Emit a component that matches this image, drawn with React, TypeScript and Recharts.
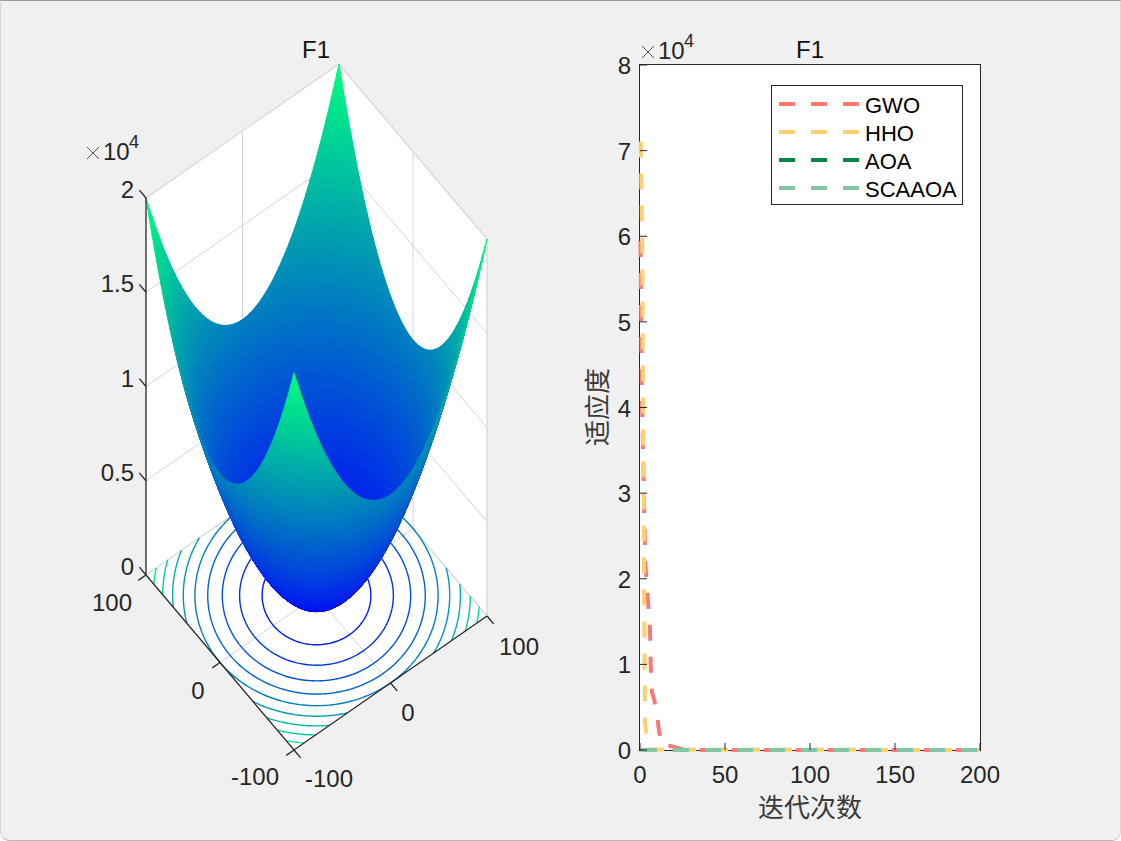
import { Legend, Line, LineChart, Scatter, ScatterChart, XAxis, YAxis } from 'recharts'

// F1 sphere surface: squared coordinate for x = 100, 98, ... 0 (mirrored for the negative side)
const squares = [
  10000, 9604, 9216, 8836, 8464, 8100, 7744, 7396, 7056, 6724, 6400, 6084, 5776, 5476, 5184, 4900, 4624,
  4356, 4096, 3844, 3600, 3364, 3136, 2916, 2704, 2500, 2304, 2116, 1936, 1764, 1600, 1444, 1296, 1156,
  1024, 900, 784, 676, 576, 484, 400, 324, 256, 196, 144, 100, 64, 36, 16, 4, 0,
]
const contourLevels = [2000, 4000, 6000, 8000, 10000, 12000, 14000, 16000, 18000]
const zTicks = [0, 5000, 10000, 15000, 20000]
const zTickLabels = ['0', '0.5', '1', '1.5', '2']
const floorTicks = [-100, 0, 100]

const gwoIter = [0.29, 1.18, 3.12, 3.53, 5.88, 6.29, 7.06, 8.41, 10.41, 11.35, 13.53, 15.88, 25.3, 35, 200]
const gwoFitness = [59450, 40880, 21600, 20790, 14010, 9930, 6775, 5840, 3500, 1985, 467, 584, 58, 0, 0]
const hhoIter = [0.41, 1.35, 1.76, 2.35, 2.94, 5, 200]
const hhoFitness = [71060, 58980, 40880, 21600, 3150, 47, 0]
const aoaIter = [0.6, 200]
const aoaFitness = [0, 0]
const scaaoaIter = [0.6, 200]
const scaaoaFitness = [0, 0]

const xTicks = [0, 50, 100, 150, 200]
const yTicks = [0, 10000, 20000, 30000, 40000, 50000, 60000, 70000, 80000]

const INK = '#262626'
const GRID = '#d6d6d6'
const FONT = '"Liberation Sans", Arial, sans-serif'
const CJK = '"Noto Sans CJK SC", sans-serif'

// fixed camera of the left axes, from the box corners
function project(x: number, y: number, z: number) {
  const u = (x + 100) / 200
  const v = (y + 100) / 200
  return { px: 294 + 193 * u - 148 * v, py: 750 - 134 * u - 175 * v - (z * 377) / 20000 }
}

// MATLAB winter colormap over the z range
function winter(z: number) {
  const t = z / 20000
  return `rgb(0,${Math.round(255 * t)},${Math.round(255 - 127.5 * t)})`
}

const column = [...squares, ...squares.slice(0, -1).reverse()]
const coord = column.map((_, i) => -100 + 2 * i)

function polygonDatum(pts: { px: number; py: number }[], fill: string, seam: boolean) {
  const px = pts.reduce((s, p) => s + p.px, 0) / pts.length
  const py = pts.reduce((s, p) => s + p.py, 0) / pts.length
  return { px, py, fill, seam, corners: pts.map(p => [p.px - px, p.py - py]) }
}

// painter's order, far corner first
const facets: ReturnType<typeof polygonDatum>[] = []
for (let i = coord.length - 2; i >= 0; i--) {
  for (let j = coord.length - 2; j >= 0; j--) {
    const zs = [column[i] + column[j], column[i + 1] + column[j], column[i + 1] + column[j + 1], column[i] + column[j + 1]]
    const pts = [
      project(coord[i], coord[j], zs[0]),
      project(coord[i + 1], coord[j], zs[1]),
      project(coord[i + 1], coord[j + 1], zs[2]),
      project(coord[i], coord[j + 1], zs[3]),
    ]
    facets.push(polygonDatum(pts, winter((zs[0] + zs[1] + zs[2] + zs[3]) / 4), true))
  }
}

const wall = [
  polygonDatum(
    [
      project(-100, 100, 0),
      project(-100, 100, 20000),
      project(100, 100, 20000),
      project(100, -100, 20000),
      project(100, -100, 0),
      project(-100, -100, 0),
    ],
    '#ffffff',
    false,
  ),
]

// walk the mesh edges for each level, then order the crossings around the bowl
function contourArcs(level: number) {
  const hits: { x: number; y: number; a: number }[] = []
  const add = (x: number, y: number) => hits.push({ x, y, a: Math.atan2(y, x) })
  for (let i = 0; i < coord.length; i++) {
    for (let j = 0; j < coord.length; j++) {
      const z = column[i] + column[j]
      if (i + 1 < coord.length) {
        const z2 = column[i + 1] + column[j]
        if ((z - level) * (z2 - level) < 0) add(coord[i] + (2 * (level - z)) / (z2 - z), coord[j])
      }
      if (j + 1 < coord.length) {
        const z2 = column[i] + column[j + 1]
        if ((z - level) * (z2 - level) < 0) add(coord[i], coord[j] + (2 * (level - z)) / (z2 - z))
      }
    }
  }
  hits.sort((a, b) => a.a - b.a)
  const arcs: (typeof hits)[] = [[]]
  hits.forEach((h, k) => {
    if (k > 0 && h.a - hits[k - 1].a > 0.12) arcs.push([])
    arcs[arcs.length - 1].push(h)
  })
  if (hits[0].a + 2 * Math.PI - hits[hits.length - 1].a <= 0.12) {
    if (arcs.length > 1) {
      const first = arcs.shift()!
      arcs[arcs.length - 1].push(...first)
    } else {
      arcs[0].push(hits[0])
    }
  }
  return arcs.map(arc => arc.map(h => project(h.x, h.y, 0)))
}

const NoMark = () => null

function Polygon({ cx, cy, payload }: any) {
  const points = payload.corners.map((c: number[]) => `${(cx + c[0]).toFixed(2)},${(cy + c[1]).toFixed(2)}`).join(' ')
  return <polygon points={points} fill={payload.fill} stroke={payload.seam ? payload.fill : 'none'} strokeWidth={1} />
}

function Path3d({ pts, color, width = 1 }: { pts: number[][]; color: string; width?: number }) {
  return (
    <Scatter
      data={pts.map(p => project(p[0], p[1], p[2]))}
      line={{ stroke: color, strokeWidth: width }}
      shape={NoMark}
      isAnimationActive={false}
    />
  )
}

function SciLabel({ x, y }: { x: number; y: number }) {
  return (
    <g fontFamily={FONT} fill={INK}>
      <path d={`M${x} ${y - 12}l12 12m0 -12l-12 12`} stroke={INK} strokeWidth={0.8} fill="none" />
      <text x={x + 16} y={y + 1} fontSize={24}>10</text>
      <text x={x + 42} y={y - 11} fontSize={18}>4</text>
    </g>
  )
}

function SurfacePanel() {
  return (
    <ScatterChart width={1121} height={841} margin={{ top: 0, right: 0, bottom: 0, left: 0 }} style={{ position: 'absolute', left: 0, top: 0 }}>
      <XAxis dataKey="px" type="number" domain={[0, 1121]} hide allowDataOverflow />
      <YAxis dataKey="py" type="number" domain={[0, 841]} reversed hide allowDataOverflow />
      <Scatter data={wall} shape={Polygon} isAnimationActive={false} />

      {/* back walls and floor grid */}
      <Path3d pts={[[-100, 100, 20000], [100, 100, 20000], [100, -100, 20000], [100, -100, 0]]} color={GRID} width={1.2} />
      <Path3d pts={[[-100, 100, 0], [100, 100, 0], [100, -100, 0]]} color={GRID} width={1.2} />
      <Path3d pts={[[100, 100, 0], [100, 100, 20000]]} color={GRID} />
      <Path3d pts={[[0, 100, 0], [0, 100, 20000]]} color={GRID} />
      <Path3d pts={[[100, 0, 0], [100, 0, 20000]]} color={GRID} />
      <Path3d pts={[[0, -100, 0], [0, 100, 0]]} color={GRID} />
      <Path3d pts={[[-100, 0, 0], [100, 0, 0]]} color={GRID} />
      {zTicks.slice(1, -1).map(z => (
        <Path3d key={z} pts={[[-100, 100, z], [100, 100, z], [100, -100, z]]} color={GRID} />
      ))}

      {contourLevels.flatMap(level =>
        contourArcs(level).map((arc, k) => (
          <Scatter
            key={`${level}-${k}`}
            data={arc}
            line={{ stroke: winter(level), strokeWidth: 1.4 }}
            shape={NoMark}
            isAnimationActive={false}
          />
        )),
      )}

      <Scatter data={facets} shape={Polygon} isAnimationActive={false} />

      {/* dark axes and tick stubs */}
      <Path3d pts={[[-100, 100, 20000], [-100, 100, 0], [-100, -100, 0], [100, -100, 0]]} color={INK} width={1.3} />
      {zTicks.map(z => (
        <Path3d key={z} pts={[[-100, 100, z], [-100, 109, z]]} color={INK} width={1.3} />
      ))}
      {floorTicks.map(t => (
        <Path3d key={`a${t}`} pts={[[t, -100, 0], [t, -109, 0]]} color={INK} width={1.3} />
      ))}
      {floorTicks.map(t => (
        <Path3d key={`b${t}`} pts={[[-100, t, 0], [-108, t, 0]]} color={INK} width={1.3} />
      ))}

      <g fontFamily={FONT} fontSize={24} fill={INK}>
        <text x={316} y={58} textAnchor="middle" fill="#111">F1</text>
        {zTickLabels.map((label, i) => (
          <text key={label} x={134} y={project(-100, 100, zTicks[i]).py} textAnchor="end">{label}</text>
        ))}
        <text x={519} y={655} textAnchor="middle">100</text>
        <text x={408} y={721} textAnchor="middle">0</text>
        <text x={329} y={787} textAnchor="middle">-100</text>
        <text x={112} y={611} textAnchor="middle">100</text>
        <text x={198} y={699} textAnchor="middle">0</text>
        <text x={255} y={785} textAnchor="middle">-100</text>
      </g>
      <SciLabel x={87} y={159} />
    </ScatterChart>
  )
}

function StubTick({ x, y, payload, side, labelled }: any) {
  const dx = side === 'left' ? 7 : side === 'right' ? -7 : 0
  const dy = side === 'bottom' ? -7 : side === 'top' ? 7 : 0
  return (
    <g>
      <line x1={x} y1={y} x2={x + dx} y2={y + dy} stroke={INK} />
      {labelled && side === 'bottom' && (
        <text x={x} y={y + 33} textAnchor="middle" fontSize={24} fontFamily={FONT} fill={INK}>{payload.value}</text>
      )}
      {labelled && side === 'left' && (
        <text x={x - 9} y={y + 9} textAnchor="end" fontSize={24} fontFamily={FONT} fill={INK}>{payload.value / 10000}</text>
      )}
    </g>
  )
}

function CurveLegend({ payload }: any) {
  return (
    <div style={{ width: 190, height: 118, background: '#fff', border: `1px solid ${INK}`, position: 'relative' }}>
      {(payload ?? []).map((item: any, i: number) => (
        <div key={item.value} style={{ position: 'absolute', left: 0, top: 4 + i * 28, height: 28, width: 190 }}>
          <svg width={90} height={28} style={{ position: 'absolute', left: 7, top: 0 }}>
            <line x1={0} x2={81} y1={14} y2={14} stroke={item.color} strokeWidth={4} strokeDasharray="16 16" />
          </svg>
          <span style={{ position: 'absolute', left: 93, top: 3, fontFamily: FONT, fontSize: 22, lineHeight: '26px', color: '#000' }}>
            {item.value}
          </span>
        </div>
      ))}
    </div>
  )
}

const zip = (iter: number[], fitness: number[]) => iter.map((v, i) => ({ iter: v, value: fitness[i] }))

function ConvergencePanel() {
  const lineProps = { dataKey: 'value', dot: false, strokeWidth: 4, strokeDasharray: '16 16', isAnimationActive: false, type: 'linear' as const, zIndex: 700 }
  return (
    <LineChart width={1121} height={841} margin={{ top: 64, right: 140, bottom: 51, left: 580 }} style={{ position: 'absolute', left: 0, top: 0 }}>
      <rect x={639.5} y={64.5} width={341} height={686} fill="#fff" stroke={INK} />
      <XAxis dataKey="iter" type="number" domain={[0, 200]} ticks={xTicks} interval={0} height={40} tickSize={0} tickMargin={0} axisLine={false} tick={<StubTick side="bottom" labelled />} />
      <XAxis xAxisId="top" orientation="top" type="number" domain={[0, 200]} ticks={xTicks} interval={0} height={1} tickSize={0} tickMargin={0} axisLine={false} tick={<StubTick side="top" />} />
      <YAxis type="number" domain={[0, 80000]} ticks={yTicks} interval={0} width={60} tickSize={0} tickMargin={0} axisLine={false} tick={<StubTick side="left" labelled />} />
      <YAxis yAxisId="right" orientation="right" type="number" domain={[0, 80000]} ticks={yTicks} interval={0} width={1} tickSize={0} tickMargin={0} axisLine={false} tick={<StubTick side="right" />} />
      <Line {...lineProps} name="GWO" data={zip(gwoIter, gwoFitness)} stroke="#f77a78" />
      <Line {...lineProps} name="HHO" data={zip(hhoIter, hhoFitness)} stroke="#fed06f" />
      <Line {...lineProps} name="AOA" data={zip(aoaIter, aoaFitness)} stroke="#008a46" />
      <Line {...lineProps} name="SCAAOA" data={zip(scaaoaIter, scaaoaFitness)} stroke="#7fc8a3" />
      <Legend
        layout="vertical"
        align="center"
        verticalAlign="middle"
        itemSorter={null}
        wrapperStyle={{ left: 771, top: 85, width: 192, height: 120 }}
        content={<CurveLegend />}
      />
      <text x={810} y={58} textAnchor="middle" fontSize={24} fontFamily={FONT} fill="#111">F1</text>
      <SciLabel x={642} y={58} />
      <text x={810} y={817} textAnchor="middle" fontSize={26} fontFamily={CJK} fill="#3a3a3a">迭代次数</text>
      <text x={607} y={407} textAnchor="middle" fontSize={26} fontFamily={CJK} fill="#3a3a3a" transform="rotate(-90 607 407)">适应度</text>
    </LineChart>
  )
}

export default function App() {
  return (
    <div style={{ position: 'absolute', left: 0, top: 0, width: 1121, height: 841, background: '#fff', overflow: 'hidden' }}>
      <div style={{ position: 'absolute', inset: 0, background: '#f0f0f0', borderTop: '1px solid #9a9a9a', borderBottom: '1px solid #b8b8b8', borderLeft: '1px solid #d8d8d8', borderRight: '1px solid #d8d8d8', borderRadius: '0 0 9px 9px', boxSizing: 'border-box' }} />
      <SurfacePanel />
      <ConvergencePanel />
    </div>
  )
}
